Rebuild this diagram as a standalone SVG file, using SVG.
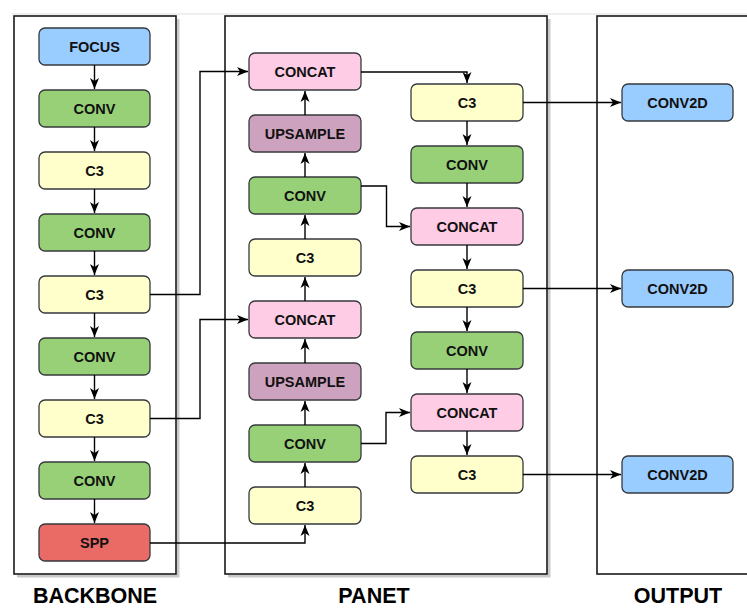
<svg xmlns="http://www.w3.org/2000/svg" width="747" height="608" viewBox="0 0 747 608">
  <defs>
    <marker id="arrow" markerWidth="12" markerHeight="12" refX="11" refY="6" orient="auto" markerUnits="userSpaceOnUse">
      <path d="M0,1.5 L11,6 L0,10.5 L3,6 Z" fill="#000"/>
    </marker>
    <style>
      .panel { fill: #fff; stroke: #1a1a1a; stroke-width: 1.6; }
      .shadow { fill: none; stroke: #c9c9c9; stroke-width: 3; }
      .node rect { stroke: #36393d; stroke-width: 1.3; }
      .node text { font-family: "Liberation Sans", Arial, sans-serif; font-weight: bold; font-size: 14.5px; fill: #111; text-anchor: middle; dominant-baseline: central; }
      .focus rect, .conv2d rect { fill: #99ccff; }
      .conv rect { fill: #97d077; }
      .c3 rect { fill: #ffffcc; }
      .concat rect { fill: #ffcce6; }
      .upsample rect { fill: #cda2be; }
      .spp rect { fill: #ea6b66; }
      .edges path { fill: none; stroke: #000; stroke-width: 1.4; marker-end: url(#arrow); }
      .title { font-family: "Liberation Sans", Arial, sans-serif; font-weight: bold; font-size: 21.5px; fill: #000; text-anchor: middle; }
    </style>
  </defs>

  <rect width="747" height="608" fill="#fff"/>
  <line x1="12" y1="14" x2="747" y2="14" stroke="#efefef" stroke-width="2"/>

  <!-- panels -->
  <g id="panels">
    <polyline class="shadow" points="178,19 178,576 17,576"/>
    <rect class="panel" x="14" y="16" width="162" height="558"/>
    <polyline class="shadow" points="549,19 549,576 228,576"/>
    <rect class="panel" x="225" y="16" width="322" height="558"/>
    <rect class="panel" x="597" y="16" width="160" height="558"/>
  </g>

  <!-- backbone -->
  <g id="bb_focus" class="node focus"><rect x="39" y="28" width="111" height="37" rx="6"/><text x="94.5" y="46.5">FOCUS</text></g>
  <g id="bb_conv1" class="node conv"><rect x="39" y="90" width="111" height="37" rx="6"/><text x="94.5" y="108.5">CONV</text></g>
  <g id="bb_c3_1" class="node c3"><rect x="39" y="152" width="111" height="37" rx="6"/><text x="94.5" y="170.5">C3</text></g>
  <g id="bb_conv2" class="node conv"><rect x="39" y="214" width="111" height="37" rx="6"/><text x="94.5" y="232.5">CONV</text></g>
  <g id="bb_c3_2" class="node c3"><rect x="39" y="276" width="111" height="37" rx="6"/><text x="94.5" y="294.5">C3</text></g>
  <g id="bb_conv3" class="node conv"><rect x="39" y="338" width="111" height="37" rx="6"/><text x="94.5" y="356.5">CONV</text></g>
  <g id="bb_c3_3" class="node c3"><rect x="39" y="400" width="111" height="37" rx="6"/><text x="94.5" y="418.5">C3</text></g>
  <g id="bb_conv4" class="node conv"><rect x="39" y="462" width="111" height="37" rx="6"/><text x="94.5" y="480.5">CONV</text></g>
  <g id="bb_spp" class="node spp"><rect x="39" y="524" width="111" height="37" rx="6"/><text x="94.5" y="542.5">SPP</text></g>

  <!-- panet, upward path -->
  <g id="pn_concat1" class="node concat"><rect x="249" y="53" width="112" height="37" rx="6"/><text x="305" y="71.5">CONCAT</text></g>
  <g id="pn_up1" class="node upsample"><rect x="249" y="115" width="112" height="37" rx="6"/><text x="305" y="133.5">UPSAMPLE</text></g>
  <g id="pn_conv1" class="node conv"><rect x="249" y="177" width="112" height="37" rx="6"/><text x="305" y="195.5">CONV</text></g>
  <g id="pn_c3_1" class="node c3"><rect x="249" y="239" width="112" height="37" rx="6"/><text x="305" y="257.5">C3</text></g>
  <g id="pn_concat2" class="node concat"><rect x="249" y="301" width="112" height="37" rx="6"/><text x="305" y="319.5">CONCAT</text></g>
  <g id="pn_up2" class="node upsample"><rect x="249" y="363" width="112" height="37" rx="6"/><text x="305" y="381.5">UPSAMPLE</text></g>
  <g id="pn_conv2" class="node conv"><rect x="249" y="425" width="112" height="37" rx="6"/><text x="305" y="443.5">CONV</text></g>
  <g id="pn_c3_2" class="node c3"><rect x="249" y="487" width="112" height="37" rx="6"/><text x="305" y="505.5">C3</text></g>

  <!-- panet, downward path -->
  <g id="pn_c3_3" class="node c3"><rect x="411" y="84" width="112" height="37" rx="6"/><text x="467" y="102.5">C3</text></g>
  <g id="pn_conv3" class="node conv"><rect x="411" y="146" width="112" height="37" rx="6"/><text x="467" y="164.5">CONV</text></g>
  <g id="pn_concat3" class="node concat"><rect x="411" y="208" width="112" height="37" rx="6"/><text x="467" y="226.5">CONCAT</text></g>
  <g id="pn_c3_4" class="node c3"><rect x="411" y="270" width="112" height="37" rx="6"/><text x="467" y="288.5">C3</text></g>
  <g id="pn_conv4" class="node conv"><rect x="411" y="332" width="112" height="37" rx="6"/><text x="467" y="350.5">CONV</text></g>
  <g id="pn_concat4" class="node concat"><rect x="411" y="394" width="112" height="37" rx="6"/><text x="467" y="412.5">CONCAT</text></g>
  <g id="pn_c3_5" class="node c3"><rect x="411" y="456" width="112" height="37" rx="6"/><text x="467" y="474.5">C3</text></g>

  <!-- output heads -->
  <g id="out_1" class="node conv2d"><rect x="622" y="84" width="111" height="37" rx="6"/><text x="677.5" y="102.5">CONV2D</text></g>
  <g id="out_2" class="node conv2d"><rect x="622" y="270" width="111" height="37" rx="6"/><text x="677.5" y="288.5">CONV2D</text></g>
  <g id="out_3" class="node conv2d"><rect x="622" y="456" width="111" height="37" rx="6"/><text x="677.5" y="474.5">CONV2D</text></g>

  <!-- connectors -->
  <g id="edges" class="edges">
    <path d="M94.5,65 V89"/>
    <path d="M94.5,127 V151"/>
    <path d="M94.5,189 V213"/>
    <path d="M94.5,251 V275"/>
    <path d="M94.5,313 V337"/>
    <path d="M94.5,375 V399"/>
    <path d="M94.5,437 V461"/>
    <path d="M94.5,499 V523"/>

    <path d="M150,294.5 H200 V71.5 H248"/>
    <path d="M150,418.5 H200 V319.5 H248"/>
    <path d="M150,543 H305 V525"/>

    <path d="M305,487 V463"/>
    <path d="M305,425 V401"/>
    <path d="M305,363 V339"/>
    <path d="M305,301 V277"/>
    <path d="M305,239 V215"/>
    <path d="M305,177 V153"/>
    <path d="M305,115 V91"/>

    <path d="M361,72 H467 V83"/>
    <path d="M361,186 H386.5 V226.5 H410"/>
    <path d="M361,443.5 H386 V412.5 H410"/>

    <path d="M467,121 V145"/>
    <path d="M467,183 V207"/>
    <path d="M467,245 V269"/>
    <path d="M467,307 V331"/>
    <path d="M467,369 V393"/>
    <path d="M467,431 V455"/>

    <path d="M523,102.5 H621"/>
    <path d="M523,288.5 H621"/>
    <path d="M523,474.5 H621"/>
  </g>

  <!-- section titles -->
  <text class="title" x="95" y="603">BACKBONE</text>
  <text class="title" x="374" y="603">PANET</text>
  <text class="title" x="678" y="603">OUTPUT</text>
</svg>
